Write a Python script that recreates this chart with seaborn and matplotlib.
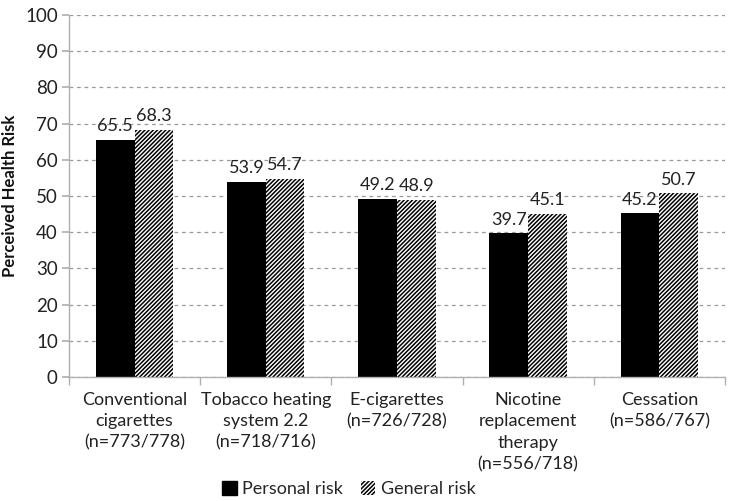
import matplotlib
matplotlib.use("Agg")
import matplotlib.pyplot as plt
import seaborn as sns
import pandas as pd
import numpy as np
from matplotlib.patches import Patch

categories = [
    "Conventional\ncigarettes\n(n=773/778)",
    "Tobacco heating\nsystem 2.2\n(n=718/716)",
    "E-cigarettes\n(n=726/728)",
    "Nicotine\nreplacement\ntherapy\n(n=556/718)",
    "Cessation\n(n=586/767)",
]
personal_risk = [65.5, 53.9, 49.2, 39.7, 45.2]
general_risk = [68.3, 54.7, 48.9, 45.1, 50.7]
series_names = ["Personal risk", "General risk"]
y_ticks = [0, 10, 20, 30, 40, 50, 60, 70, 80, 90, 100]

df = pd.DataFrame({
    "category": categories * 2,
    "risk": personal_risk + general_risk,
    "series": [series_names[0]] * len(categories) + [series_names[1]] * len(categories),
})

sns.set_theme(style="white")
plt.rcParams["font.family"] = ["Lato", "DejaVu Sans"]
plt.rcParams["hatch.linewidth"] = 1.1
plt.rcParams["hatch.color"] = "black"

HATCH = "////////"

fig = plt.figure(figsize=(7.3, 5.01), dpi=100)
ax = fig.add_axes([0.0945, 0.2475, 0.8985, 0.7225])

sns.barplot(data=df, x="category", y="risk", hue="series",
            palette=["black", "white"], width=0.59, saturation=1,
            ax=ax, legend=False, errorbar=None)

# second series: white fill with dense diagonal hatch
for container, name in zip(ax.containers, series_names):
    for bar in container:
        bar.set_edgecolor("black")
        bar.set_linewidth(0)
        if name == series_names[1]:
            bar.set_hatch(HATCH)
    ax.bar_label(container, fmt="%.1f", padding=4, fontsize=13, color="#222222")

ax.set_ylim(0, 100)
ax.set_yticks(y_ticks)
ax.set_xlim(-0.5, len(categories) - 0.5)
ax.yaxis.grid(True, linestyle=(0, (3, 3)), color="#9a9a9a", linewidth=0.9)
ax.set_axisbelow(True)

for side in ["top", "right"]:
    ax.spines[side].set_visible(False)
for side in ["left", "bottom"]:
    ax.spines[side].set_color("#b0b0b0")
    ax.spines[side].set_linewidth(1.0)

ax.tick_params(axis="y", labelsize=13.5, colors="#222222", left=True, length=5,
               color="#b0b0b0", pad=3)
ax.tick_params(axis="x", labelsize=13, colors="#222222", bottom=False, pad=5)
for lbl in ax.get_xticklabels():
    lbl.set_linespacing(1.4)
ax.set_xticks(np.arange(-0.5, len(categories) + 0.5, 1), minor=True)
ax.tick_params(axis="x", which="minor", bottom=True, length=6, color="#b0b0b0", width=1)

ax.set_xlabel("")
ax.set_ylabel("Perceived Health Risk", fontsize=12, fontweight="bold", color="#111111")
ax.yaxis.set_label_coords(-0.078, 0.5)

handles = [
    Patch(facecolor="black", edgecolor="black", label=series_names[0]),
    Patch(facecolor="white", edgecolor="black", hatch=HATCH, linewidth=0, label=series_names[1]),
]
fig.legend(handles=handles, loc="lower center", bbox_to_anchor=(0.478, -0.025), ncol=2,
           frameon=False, fontsize=13, handlelength=0.8, handleheight=0.8,
           handletextpad=0.3, columnspacing=1.0)

fig.savefig("out.png", dpi=100)
